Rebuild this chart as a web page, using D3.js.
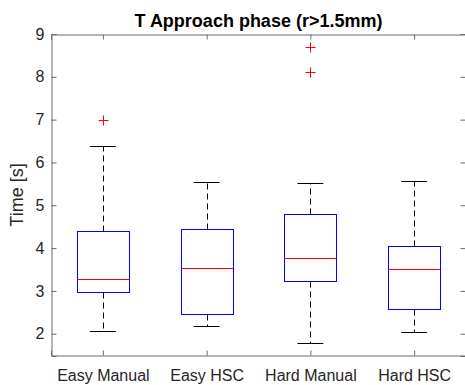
<!DOCTYPE html>
<html>
<head>
<meta charset="utf-8">
<script src="https://cdn.jsdelivr.net/npm/d3@7"></script>
<style>
  body { margin: 0; background: #fff; }
  svg { font-family: "Liberation Sans", Arial, Helvetica, sans-serif; }
</style>
</head>
<body>
<div id="plot"></div>
<script>
// values
var categories = ["Easy Manual", "Easy HSC", "Hard Manual", "Hard HSC"];
var whiskerLo = [2.06, 2.17, 1.79, 2.04];
var q1        = [2.97, 2.47, 3.23, 2.57];
var medians   = [3.27, 3.53, 3.77, 3.52];
var q3        = [4.39, 4.44, 4.79, 4.04];
var whiskerHi = [6.39, 5.55, 5.53, 5.56];
var outliers  = [[6.98], [], [8.69, 8.11], []];
var yTicks = [2, 3, 4, 5, 6, 7, 8, 9];

function boxplot() {
  var W = 465, H = 385;
  var left = 51, right = 466, top = 34, bottom = 356;

  var svg = d3.select("#plot").append("svg")
    .attr("width", W)
    .attr("height", H);

  var x = d3.scaleLinear().domain([0.5, 4.5]).range([left, right]);
  var y = d3.scaleLinear().domain([1.48, 9]).range([bottom, top]);

  var axisColor = "#262626";

  // axes (ticks pointing inward, MATLAB style)
  var gy = svg.append("g")
    .attr("transform", "translate(" + (left + 0.5) + ",0)")
    .call(d3.axisLeft(y).tickValues(yTicks).tickSize(-5).tickPadding(7));
  var gyr = svg.append("g")
    .attr("transform", "translate(" + (right - 0.5) + ",0)")
    .call(d3.axisRight(y).tickValues(yTicks).tickSize(-5).tickFormat(""));
  var gx = svg.append("g")
    .attr("transform", "translate(0," + (bottom - 0.5) + ")")
    .call(d3.axisBottom(x).tickValues([1, 2, 3, 4]).tickSize(-5).tickPadding(14)
      .tickFormat(function(d) { return categories[d - 1]; }));
  var gxt = svg.append("g")
    .attr("transform", "translate(0," + (top + 0.5) + ")")
    .call(d3.axisTop(x).tickValues([1, 2, 3, 4]).tickSize(-5).tickFormat(""));

  [gy, gyr, gx, gxt].forEach(function(g) {
    g.select(".domain").attr("stroke", "#6b6b6b");
    g.selectAll(".tick line").attr("stroke", "#6b6b6b");
    g.selectAll(".tick text").attr("fill", axisColor).style("font-size", "16px");
  });

  var idx = d3.range(categories.length);
  var half = 0.25, capHalf = 0.125;
  function cx(i) { return Math.round(x(i + 1)) + 0.5; }
  function py(v) { return Math.round(y(v)) + 0.5; }

  var boxes = svg.append("g").selectAll("g.box")
    .data(idx)
    .enter().append("g")
    .attr("class", "box");

  // dashed whiskers
  boxes.append("line")
    .attr("x1", cx).attr("x2", cx)
    .attr("y1", function(i) { return py(q3[i]); })
    .attr("y2", function(i) { return py(whiskerHi[i]); })
    .attr("stroke", "#000")
    .attr("stroke-dasharray", "6,4");
  boxes.append("line")
    .attr("x1", cx).attr("x2", cx)
    .attr("y1", function(i) { return py(q1[i]); })
    .attr("y2", function(i) { return py(whiskerLo[i]); })
    .attr("stroke", "#000")
    .attr("stroke-dasharray", "6,4");

  // caps
  [whiskerHi, whiskerLo].forEach(function(arr) {
    boxes.append("line")
      .attr("x1", function(i) { return x(i + 1 - capHalf); })
      .attr("x2", function(i) { return x(i + 1 + capHalf); })
      .attr("y1", function(i) { return py(arr[i]); })
      .attr("y2", function(i) { return py(arr[i]); })
      .attr("stroke", "#000");
  });

  boxes.append("rect")
    .attr("x", function(i) { return Math.round(x(i + 1 - half)) + 0.5; })
    .attr("y", function(i) { return py(q3[i]); })
    .attr("width", function(i) { return Math.round(x(i + 1 + half) - x(i + 1 - half)); })
    .attr("height", function(i) { return py(q1[i]) - py(q3[i]); })
    .attr("fill", "none")
    .attr("stroke", "#0000ff");

  boxes.append("line")
    .attr("x1", function(i) { return Math.round(x(i + 1 - half)) + 0.5; })
    .attr("x2", function(i) { return Math.round(x(i + 1 + half)) + 0.5; })
    .attr("y1", function(i) { return py(medians[i]); })
    .attr("y2", function(i) { return py(medians[i]); })
    .attr("stroke", "#ff0000");

  // outliers as red plus signs
  var pts = [];
  outliers.forEach(function(list, i) {
    list.forEach(function(v) { pts.push({i: i, v: v}); });
  });
  svg.append("g").selectAll("path.out")
    .data(pts)
    .enter().append("path")
    .attr("class", "out")
    .attr("transform", function(d) {
      return "translate(" + cx(d.i) + "," + py(d.v) + ")";
    })
    .attr("d", "M-5,0H5M0,-5V5")
    .attr("stroke", "#ff0000")
    .attr("fill", "none");

  // title and y label
  svg.append("text")
    .attr("x", (left + right) / 2)
    .attr("y", 27)
    .attr("text-anchor", "middle")
    .style("font-size", "18px")
    .style("font-weight", "bold")
    .attr("fill", "#000")
    .text("T Approach phase (r>1.5mm)");

  svg.append("text")
    .attr("transform", "translate(23," + ((top + bottom) / 2) + ") rotate(-90)")
    .attr("text-anchor", "middle")
    .style("font-size", "18px")
    .attr("fill", axisColor)
    .text("Time [s]");
}

boxplot();
</script>
</body>
</html>
